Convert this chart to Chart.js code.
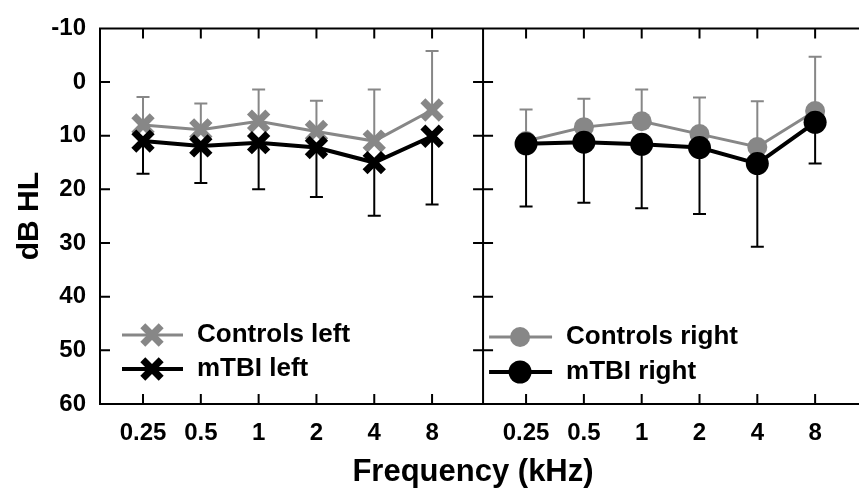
<!DOCTYPE html>
<html>
<head>
<meta charset="utf-8">
<script src="https://cdn.jsdelivr.net/npm/chart.js@4.4.1/dist/chart.umd.min.js"></script>
<style>
  html, body { margin: 0; padding: 0; background: #fff; overflow: hidden; }
  #wrap { position: relative; width: 859px; height: 491px; overflow: hidden; }
  #chart { position: absolute; left: 0; top: 0; }
</style>
</head>
<body>
<div id="wrap"><canvas id="chart" width="870" height="491"></canvas></div>
<script>
// --- Data (dB HL, mean and one-sided SD) ---
const freqLabels = ['0.25', '0.5', '1', '2', '4', '8'];
const yTicks = [-10, 0, 10, 20, 30, 40, 50, 60];

const controlsLeft = [8.0, 8.9, 7.3, 9.2, 11.0, 5.2];
const controlsLeftSd = [5.2, 4.9, 5.9, 5.7, 9.6, 11.0];
const mtbiLeft = [11.0, 11.9, 11.3, 12.2, 15.0, 10.1];
const mtbiLeftSd = [6.1, 6.9, 8.7, 9.2, 9.9, 12.7];

const controlsRight = [11.0, 8.4, 7.3, 9.7, 12.1, 5.4];
const controlsRightSd = [5.9, 5.3, 5.9, 6.8, 8.5, 10.1];
const mtbiRight = [11.5, 11.2, 11.6, 12.2, 15.2, 7.5];
const mtbiRightSd = [11.7, 11.3, 11.9, 12.4, 15.5, 7.7];

// --- Panel layout on one shared linear x scale ---
const X_MIN = -0.744;
const X_MAX = 12.16;        // scale end (keeps the axis title centred like the figure)
const PANEL_EDGE = 12.57;   // right frame of the right panel, just past the picture edge
const DIVIDER = 5.882;      // boundary between left and right ear panels
const PANEL_SHIFT = 6.626;  // x offset of the right panel's first frequency

const GREY = '#878787';
const BLACK = '#000000';
const FONT = 'Liberation Sans';

Chart.defaults.font.family = FONT;

const tickPositions = [
  ...freqLabels.map((_, i) => i),
  ...freqLabels.map((_, i) => i + PANEL_SHIFT)
];

function series(label, vals, sd, panel, color, style, errDir) {
  const shift = panel === 'right' ? PANEL_SHIFT : 0;
  const isBlack = color === BLACK;
  const cross = style === 'crossRot';
  return {
    label: label,
    data: vals.map((v, i) => ({ x: i + shift, y: v })),
    sd: sd,
    errDir: errDir,
    panel: panel,
    borderColor: color,
    backgroundColor: color,
    borderWidth: isBlack ? 4 : 3,
    pointStyle: style,
    pointRadius: cross ? 13 : (isBlack ? 11.5 : 10),
    pointBorderWidth: cross ? 7 : 0,
    pointBorderColor: color,
    pointBackgroundColor: color,
    tension: 0,
    fill: false,
    order: isBlack ? 0 : 1
  };
}

const datasets = [
  series('Controls left', controlsLeft, controlsLeftSd, 'left', GREY, 'crossRot', -1),
  series('mTBI left', mtbiLeft, mtbiLeftSd, 'left', BLACK, 'crossRot', 1),
  series('Controls right', controlsRight, controlsRightSd, 'right', GREY, 'circle', -1),
  series('mTBI right', mtbiRight, mtbiRightSd, 'right', BLACK, 'circle', 1)
];

// Error bars, frame with inward ticks, and in-panel legends
const framePlugin = {
  id: 'frame',
  beforeDatasetsDraw(chart) {
    const ctx = chart.ctx;
    const yScale = chart.scales.y;
    ctx.save();
    chart.data.datasets.forEach((ds, i) => {
      const meta = chart.getDatasetMeta(i);
      ctx.strokeStyle = ds.borderColor;
      ctx.lineWidth = 2;
      meta.data.forEach((pt, j) => {
        const yEnd = yScale.getPixelForValue(ds.data[j].y + ds.errDir * ds.sd[j]);
        ctx.beginPath();
        ctx.moveTo(pt.x, pt.y);
        ctx.lineTo(pt.x, yEnd);
        ctx.moveTo(pt.x - 6.5, yEnd);
        ctx.lineTo(pt.x + 6.5, yEnd);
        ctx.stroke();
      });
    });
    ctx.restore();
  },
  afterDatasetsDraw(chart) {
    const ctx = chart.ctx;
    const { left, top, bottom } = chart.chartArea;
    const xScale = chart.scales.x;
    const yScale = chart.scales.y;
    const dx = xScale.getPixelForValue(DIVIDER);
    const right = xScale.getPixelForValue(PANEL_EDGE);
    const tl = 10;

    ctx.save();
    ctx.strokeStyle = BLACK;
    ctx.lineWidth = 2;
    ctx.beginPath();
    ctx.rect(left, top, right - left, bottom - top);
    ctx.moveTo(dx, top);
    ctx.lineTo(dx, bottom);
    xScale.ticks.forEach(t => {
      const px = xScale.getPixelForValue(t.value);
      ctx.moveTo(px, top);
      ctx.lineTo(px, top + tl);
      ctx.moveTo(px, bottom);
      ctx.lineTo(px, bottom - tl);
    });
    yScale.ticks.forEach(t => {
      const py = yScale.getPixelForValue(t.value);
      ctx.moveTo(left, py);
      ctx.lineTo(left + tl, py);
      ctx.moveTo(dx - tl, py);
      ctx.lineTo(dx + tl, py);
      ctx.moveTo(right - tl, py);
      ctx.lineTo(right, py);
    });
    ctx.stroke();

    // legends
    const legendSpots = {
      left: { x0: left + 22, x1: left + 83, xm: left + 52, xt: left + 97, ys: [bottom - 69, bottom - 35] },
      right: { x0: dx + 6, x1: dx + 69, xm: dx + 37, xt: dx + 83, ys: [bottom - 67, bottom - 32] }
    };
    ['left', 'right'].forEach(panel => {
      const spot = legendSpots[panel];
      chart.data.datasets.filter(ds => ds.panel === panel).forEach((ds, k) => {
        const y = spot.ys[k];
        ctx.strokeStyle = ds.borderColor;
        ctx.fillStyle = ds.borderColor;
        ctx.lineWidth = ds.borderWidth;
        ctx.beginPath();
        ctx.moveTo(spot.x0, y);
        ctx.lineTo(spot.x1, y);
        ctx.stroke();
        ctx.lineWidth = ds.pointBorderWidth;
        Chart.helpers.drawPoint(ctx, {
          pointStyle: ds.pointStyle,
          radius: ds.pointRadius,
          borderWidth: ds.pointBorderWidth,
          rotation: 0
        }, spot.xm, y);
        ctx.fillStyle = BLACK;
        ctx.font = 'bold 26px "' + FONT + '"';
        ctx.textAlign = 'left';
        ctx.textBaseline = 'middle';
        ctx.fillText(ds.label, spot.xt, y);
      });
    });
    ctx.restore();
  }
};

new Chart(document.getElementById('chart'), {
  type: 'line',
  data: { datasets: datasets },
  options: {
    responsive: false,
    animation: false,
    devicePixelRatio: 1,
    layout: { autoPadding: false, padding: { top: 22, left: 0, right: 24, bottom: 0 } },
    plugins: { legend: { display: false }, tooltip: { enabled: false } },
    scales: {
      x: {
        type: 'linear',
        min: X_MIN,
        max: X_MAX,
        grid: { display: false, drawTicks: false },
        border: { display: false },
        afterBuildTicks: s => { s.ticks = tickPositions.map(v => ({ value: v })); },
        afterFit: s => { s.height = 87; },
        ticks: {
          autoSkip: false,
          maxRotation: 0,
          padding: 15,
          color: BLACK,
          font: { size: 24, weight: 'bold' },
          callback: (v, i) => freqLabels[i % freqLabels.length]
        },
        title: {
          display: true,
          text: 'Frequency (kHz)',
          color: BLACK,
          font: { size: 31, weight: 'bold' },
          padding: { top: 0, bottom: 0 }
        }
      },
      y: {
        type: 'linear',
        reverse: true,
        min: -10,
        max: 60,
        grid: { display: false, drawTicks: false },
        border: { display: false },
        afterBuildTicks: s => { s.ticks = yTicks.map(v => ({ value: v })); },
        afterFit: s => { s.width = 100; },
        ticks: {
          padding: 14,
          color: BLACK,
          font: { size: 24, weight: 'bold' }
        },
        title: {
          display: true,
          text: 'dB HL',
          color: BLACK,
          font: { size: 30, weight: 'bold' },
          padding: { top: 12, bottom: 0 }
        }
      }
    }
  },
  plugins: [framePlugin]
});
</script>
</body>
</html>
